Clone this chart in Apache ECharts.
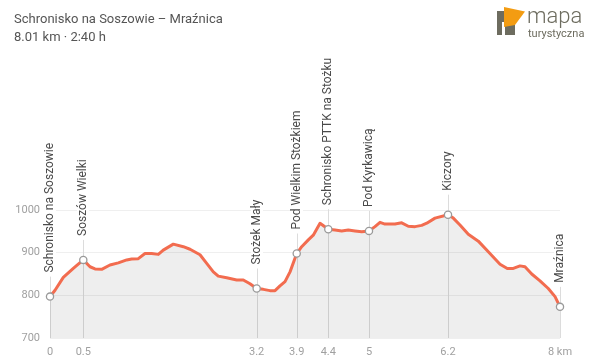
<!DOCTYPE html>
<html>
<head>
<meta charset="utf-8">
<script src="https://cdn.jsdelivr.net/npm/echarts@6/dist/echarts.min.js"></script>
<style>
html,body{margin:0;padding:0;background:#fff;}
#chart{width:600px;height:362px;}
</style>
</head>
<body>
<div id="chart"></div>
<script>
// Profile data (km, elevation m)
var distKm = [0,0.079,0.209,0.366,0.523,0.628,0.707,0.812,0.942,1.073,1.205,1.283,1.387,1.492,1.597,1.701,1.779,1.858,1.937,2.094,2.199,2.356,2.461,2.565,2.643,2.775,2.932,3.036,3.141,3.246,3.350,3.455,3.534,3.612,3.691,3.770,3.875,3.953,4.057,4.135,4.241,4.371,4.476,4.581,4.685,4.790,4.896,5.010,5.104,5.183,5.261,5.418,5.524,5.627,5.733,5.838,5.917,6.047,6.251,6.334,6.439,6.570,6.727,6.884,7.068,7.182,7.277,7.382,7.460,7.566,7.696,7.826,7.932,8.01];
var elevM  = [797,812,842,863,883,867,862,861,871,876,883,885,886,898,898,896,906,913,920,914,908,895,875,855,845,841,836,836,827,816,814,811,811,822,832,855,898,914,930,941,969,955,953,951,953,951,949,951,961,971,967,967,970,962,961,964,969,981,989,981,965,943,927,902,873,863,863,869,867,850,834,816,797,773];

// Waypoints
var wpNames = ["Schronisko na Soszowie","Soszów Wielki","Stożek Mały","Pod Wielkim Stożkiem","Schronisko PTTK na Stożku","Pod Kyrkawicą","Kiczory","Mraźnica"];
var wpKm    = [0,0.523,3.246,3.875,4.371,5.010,6.251,8.01];
var wpElev  = [797,883,816,898,955,951,989,773];
var xTickLabels = ["0","0.5","3.2","3.9","4.4","5","6.2","8 km"];

var yTicks = [700,800,900,1000];

var titleText = "Schronisko na Soszowie – Mraźnica";
var subText = "8.01 km · 2:40 h";

var profile = distKm.map(function(d,i){return [d, elevM[i]];});
var waypoints = wpKm.map(function(d,i){return [d, wpElev[i], i];});

var chart = echarts.init(document.getElementById('chart'), null, {renderer:'canvas'});
var FONT = 'Roboto, "Noto Sans", sans-serif';

function wpLines(params, api){
  var p = api.coord([api.value(0), api.value(1)]);
  var b = api.coord([api.value(0), yTicks[0]]);
  return {type:'line', shape:{x1:Math.round(p[0])+0.5, y1:b[1], x2:Math.round(p[0])+0.5, y2:p[1]-20},
    style:{stroke:'#dcdcdc', lineWidth:1}};
}
function wpMarks(params, api){
  var p = api.coord([api.value(0), api.value(1)]);
  var idx = api.value(2);
  return {type:'group', children:[
    {type:'circle', shape:{cx:p[0], cy:p[1], r:3.6}, style:{fill:'#fff', stroke:'#9a9a9a', lineWidth:1.3}},
    {type:'text', x:Math.round(p[0]), y:p[1]-22, rotation:Math.PI/2,
      style:{text:wpNames[idx], fill:'#4a4a4a', font:'12px '+FONT, align:'left', verticalAlign:'middle',
        backgroundColor:'#fff', padding:[0,2]}}
  ]};
}

chart.setOption({
  animation:false,
  title:{
    text:titleText, subtext:subText, left:9, top:8, itemGap:5,
    textStyle:{fontSize:13, fontWeight:'normal', color:'#555', fontFamily:FONT},
    subtextStyle:{fontSize:13, color:'#555', fontFamily:FONT}
  },
  grid:{left:50, right:40, top:210, bottom:24, containLabel:false},
  xAxis:{
    type:'value', min:0, max:wpKm[wpKm.length-1],
    axisLine:{show:false}, axisTick:{show:false}, splitLine:{show:false},
    axisLabel:{
      customValues:wpKm, color:'#a0a0a0', fontSize:11, fontFamily:FONT, margin:9,
      formatter:function(v){
        var i = wpKm.indexOf(v);
        return i>=0 ? xTickLabels[i] : '';
      }
    }
  },
  yAxis:{
    type:'value', min:yTicks[0], max:yTicks[yTicks.length-1], interval:100,
    axisLine:{show:false}, axisTick:{show:false},
    splitLine:{lineStyle:{color:'#efefef', width:1}},
    axisLabel:{color:'#a0a0a0', fontSize:11, fontFamily:FONT, margin:10,
      formatter:function(v){return String(v);}}
  },
  graphic:[
    {type:'rect', shape:{x:497, y:11, width:18, height:24}, style:{fill:'#6d6c5f'}},
    {type:'rect', shape:{x:502, y:22, width:3, height:13}, style:{fill:'#fff'}},
    {type:'polygon', shape:{points:[[504,7],[525,11.5],[515,25],[504,27]]}, style:{fill:'#f39c12'}},
    {type:'text', x:527, y:28, style:{text:'mapa', font:'300 22px '+FONT, fill:'#6d6c5f', verticalAlign:'bottom', align:'left'}},
    {type:'text', x:528, y:29, style:{text:'turystyczna', font:'11px '+FONT, fill:'#6d6c5f', verticalAlign:'top', align:'left'}}
  ],
  series:[
    {
      type:'custom', renderItem:wpLines, data:waypoints, z:1, silent:true,
      encode:{x:0, y:1}
    },
    {
      type:'line', data:profile, showSymbol:false, symbol:'none', z:2,
      lineStyle:{color:'#f26c4f', width:3, join:'round', cap:'round'},
      areaStyle:{color:'rgba(0,0,0,0.095)'}
    },
    {
      type:'custom', renderItem:wpMarks, data:waypoints, z:3, silent:true,
      encode:{x:0, y:1}
    }
  ]
});
</script>
</body>
</html>
